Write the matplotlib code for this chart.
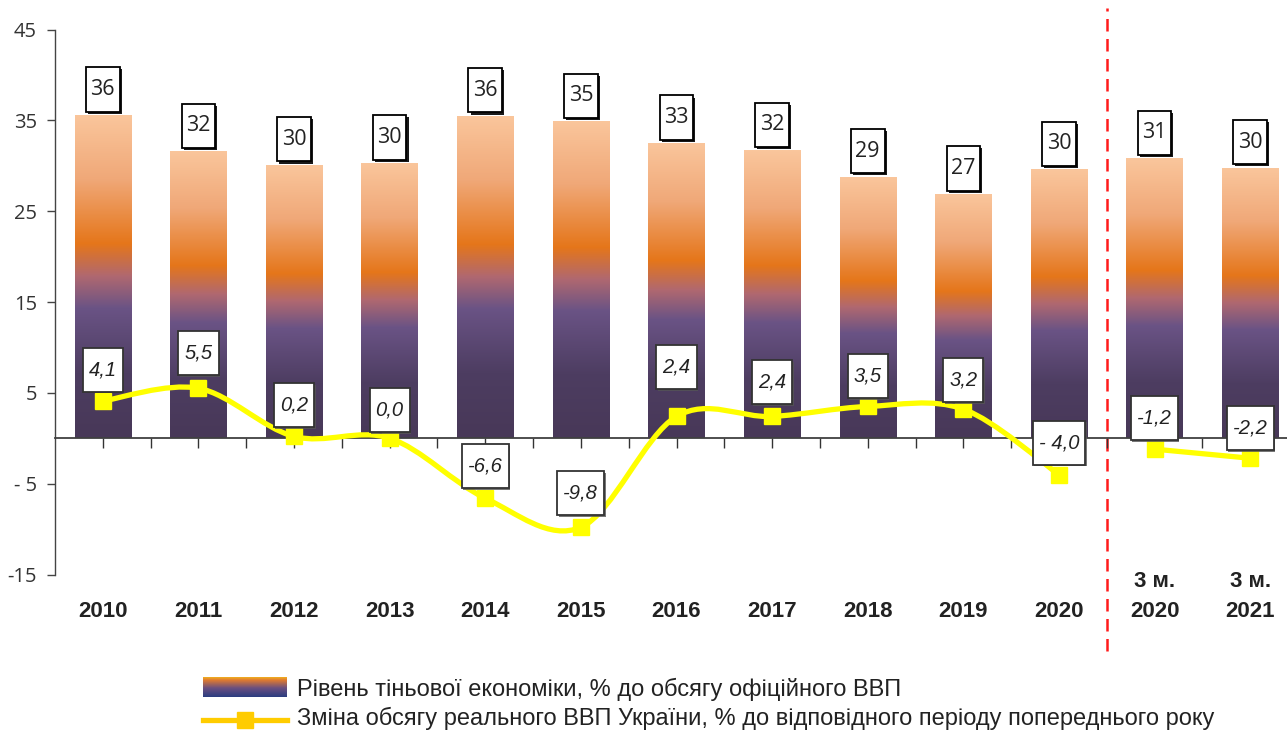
import numpy as np
import matplotlib
matplotlib.use('Agg')
import matplotlib.pyplot as plt
from matplotlib.colors import LinearSegmentedColormap
from matplotlib.path import Path
from matplotlib.patches import PathPatch
from matplotlib.lines import Line2D
import matplotlib.patheffects as pe

# data
categories = ['2010', '2011', '2012', '2013', '2014', '2015', '2016',
              '2017', '2018', '2019', '2020', '3 м.\n2020', '3 м.\n2021']
shadow_share = [35.6, 31.6, 30.1, 30.3, 35.5, 34.9, 32.5, 31.7, 28.8, 26.9, 29.6, 30.8, 29.8]
shadow_labels = ['36', '32', '30', '30', '36', '35', '33', '32', '29', '27', '30', '31', '30']
gdp_change = [4.1, 5.5, 0.2, 0.0, -6.6, -9.8, 2.4, 2.4, 3.5, 3.2, -4.0, -1.2, -2.2]
gdp_labels = ['4,1', '5,5', '0,2', '0,0', '-6,6', '-9,8', '2,4', '2,4', '3,5', '3,2', '- 4,0', '-1,2', '-2,2']
ytick_values = [-15, -5, 5, 15, 25, 35, 45]
ytick_labels = ['-15', '- 5', '5', '15', '25', '35', '45']
yearly_count = 11  # first 11 points are annual, last two are quarters

# label offsets above the line points, pixels
gdp_label_dy = [31, 35, 31, 28, 32, 34, 49, 34, 30, 29, 32, 31, 30]

legend_texts = ['Рівень тіньової економіки, % до обсягу офіційного ВВП',
                'Зміна обсягу реального ВВП України, % до відповідного періоду попереднього року']


def box_style(padx, pady):
    """Rectangle with separate horizontal / vertical padding (in font sizes)."""
    def make(x0, y0, width, height, mutation_size):
        dx, dy = padx * mutation_size, pady * mutation_size
        x1, y1 = x0 + width + dx, y0 + height + dy
        x0, y0 = x0 - dx, y0 - dy
        return Path([(x0, y0), (x1, y0), (x1, y1), (x0, y1), (x0, y0)], closed=True)
    return make


W, H = 1287, 731
fig = plt.figure(figsize=(W / 100, H / 100), dpi=100)
ax = fig.add_axes([55 / W, 1 - 574.5 / H, 1243 / W, 545 / H])

bar_cmap = LinearSegmentedColormap.from_list('shadow', [
    (0.0, '#483858'), (0.2, '#4d3d61'), (0.4, '#6a5385'), (0.5, '#b06870'),
    (0.6, '#e5761a'), (0.8, '#f0a878'), (1.0, '#fac69c')])
grad = np.linspace(0, 1, 256).reshape(-1, 1)

x = np.arange(len(categories))
bars = ax.bar(x, shadow_share, width=0.59, color='none', edgecolor='none', zorder=2)
for rect in bars:
    x0, w, h = rect.get_x(), rect.get_width(), rect.get_height()
    im = ax.imshow(grad, cmap=bar_cmap, origin='lower', aspect='auto',
                   extent=(x0, x0 + w, 0, h), zorder=2)
    im.set_clip_path(rect)

# bar value boxes
for xi, v, lab in zip(x, shadow_share, shadow_labels):
    t = ax.annotate(lab, (xi, v), xytext=(0, 15), textcoords='offset pixels',
                    ha='center', va='bottom', fontsize=15.5, family='Open Sans',
                    color='#222222', zorder=6,
                    bbox=dict(boxstyle=box_style(0.21, 0.54), fc='white', ec='black', lw=1.3))
    t.get_bbox_patch().set_path_effects([pe.SimplePatchShadow(offset=(1.5, -1.5), shadow_rgbFace='black', alpha=0.9), pe.Normal()])

# smooth line for the annual part (Catmull-Rom bezier segments)
px = x[:yearly_count].astype(float)
py = np.array(gdp_change[:yearly_count], dtype=float)
verts = [(px[0], py[0])]
codes = [Path.MOVETO]
n = len(px)
for i in range(n - 1):
    p0 = np.array([px[max(i - 1, 0)], py[max(i - 1, 0)]])
    p1 = np.array([px[i], py[i]])
    p2 = np.array([px[i + 1], py[i + 1]])
    p3 = np.array([px[min(i + 2, n - 1)], py[min(i + 2, n - 1)]])
    c1 = p1 + (p2 - p0) / 6
    c2 = p2 - (p3 - p1) / 6
    verts += [tuple(c1), tuple(c2), tuple(p2)]
    codes += [Path.CURVE4] * 3
ax.add_patch(PathPatch(Path(verts, codes), fc='none', ec='#ffff00', lw=3.8,
                       capstyle='round', zorder=4))
ax.plot(x[:yearly_count], gdp_change[:yearly_count], ls='none', marker='s',
        ms=11, color='#ffff00', zorder=5)
ax.plot(x[yearly_count:], gdp_change[yearly_count:], ls='-', lw=3.8, marker='s',
        ms=11, color='#ffff00', zorder=5)

for xi, v, lab, dy in zip(x, gdp_change, gdp_labels, gdp_label_dy):
    t = ax.annotate(lab, (xi, v), xytext=(0, dy), textcoords='offset pixels',
                    ha='center', va='center', fontsize=14.5, style='italic',
                    family='Liberation Sans', color='#222222', zorder=7,
                    bbox=dict(boxstyle=box_style(0.3, 0.62), fc='white', ec='#333333', lw=1.3))
    t.get_bbox_patch().set_path_effects([pe.SimplePatchShadow(offset=(1, -1), shadow_rgbFace='#555555', alpha=0.8), pe.Normal()])

# axes styling
ax.set_xlim(-0.5, len(categories) - 0.5)
ax.set_ylim(-15, 45)
ax.set_yticks(ytick_values)
ax.set_yticklabels(ytick_labels, family='Open Sans', fontsize=14.5, color='#333333')
ax.spines['top'].set_visible(False)
ax.spines['right'].set_visible(False)
ax.spines['left'].set_color('#444444')
ax.spines['left'].set_linewidth(1.0)
ax.spines['bottom'].set_position(('data', 0))
ax.spines['bottom'].set_color('#404040')
ax.spines['bottom'].set_linewidth(1.3)
ax.spines['bottom'].set_zorder(3)
ax.tick_params(axis='y', length=6, width=1.0, color='#444444', pad=7)
ax.set_xticks(np.arange(0, len(categories), 0.5))
ax.set_xticklabels([])
ax.tick_params(axis='x', length=7, width=1.0, color='#333333', direction='out')

for xi, lab in zip(x, categories):
    lines = lab.split('\n')
    ax.text(xi, -0.068, lines[-1], transform=ax.get_xaxis_transform(), ha='center',
            va='center', fontsize=16, fontweight='bold', family='Liberation Sans',
            color='#222222')
    if len(lines) > 1:
        ax.text(xi, -0.012, lines[0], transform=ax.get_xaxis_transform(), ha='center',
                va='center', fontsize=16, fontweight='bold', family='Liberation Sans',
                color='#222222')

# red divider between annual and quarterly data
ax.axvline(yearly_count - 0.5, ymin=-0.14, ymax=1.04, color='#ff1a1a', lw=1.8,
           ls=(0, (5, 3)), clip_on=False, zorder=1)

# legend drawn by hand
leg_cmap = LinearSegmentedColormap.from_list('leg', [
    (0.0, '#2a3d80'), (0.45, '#6a4f80'), (0.85, '#e07a30'), (1.0, '#f0b020')])
lax = fig.add_axes([203 / W, 1 - 697 / H, 84 / W, 20 / H])
lax.imshow(grad, cmap=leg_cmap, origin='lower', aspect='auto')
lax.axis('off')
fig.add_artist(Line2D([203 / W, 245 / W, 287 / W], [1 - 720 / H] * 3, color='#ffcc00',
                      lw=3.8, marker='s', ms=12, markevery=[1]))
for i, txt in enumerate(legend_texts):
    fig.text(297 / W, 1 - (689 + 29 * i) / H, txt, ha='left', va='center',
             fontsize=17, family='Liberation Sans', color='#222222')

plt.savefig('out.png', dpi=100)
